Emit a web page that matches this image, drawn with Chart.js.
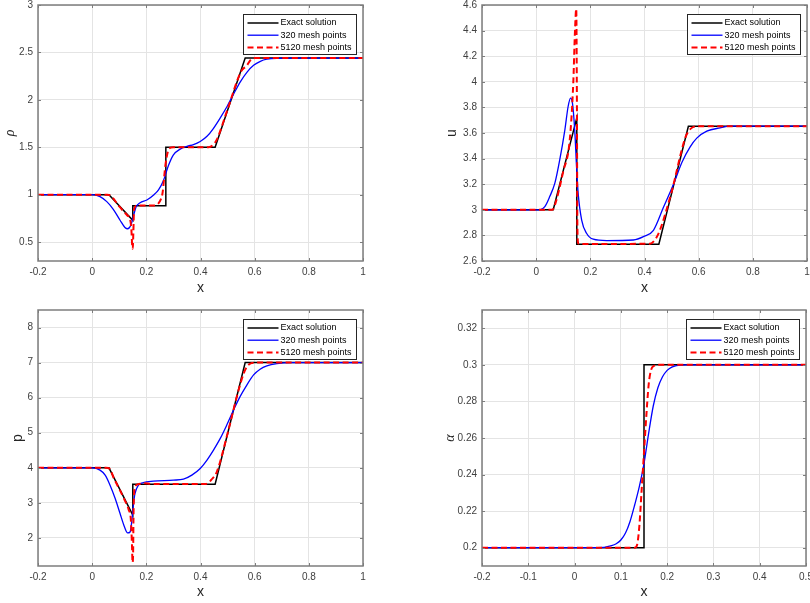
<!DOCTYPE html>
<html>
<head>
<meta charset="utf-8">
<script src="https://cdn.jsdelivr.net/npm/chart.js@4"></script>
<style>
  html, body { margin: 0; padding: 0; background: #fff; }
  #wrap { position: relative; width: 810px; height: 603px; overflow: hidden; }
  canvas { position: absolute; }
</style>
</head>
<body>
<div id="wrap">
  <canvas id="cRho" width="400" height="300" style="left:0;top:0"></canvas>
  <canvas id="cU" width="370" height="300" style="left:440px;top:0"></canvas>
  <canvas id="cP" width="400" height="303" style="left:0;top:300px"></canvas>
  <canvas id="cAlpha" width="370" height="303" style="left:440px;top:300px"></canvas>
</div>
<script>
// series names
const seriesLabels = ['Exact solution', '320 mesh points', '5120 mesh points'];

// tick labels
const xTicksWide = [-0.2, 0, 0.2, 0.4, 0.6, 0.8, 1];
const xTicksNarrow = [-0.2, -0.1, 0, 0.1, 0.2, 0.3, 0.4, 0.5];
const rhoTicks = [0.5, 1, 1.5, 2, 2.5, 3];
const uTicks = [2.6, 2.8, 3, 3.2, 3.4, 3.6, 3.8, 4, 4.2, 4.4, 4.6];
const pTicks = [2, 3, 4, 5, 6, 7, 8];
const alphaTicks = [0.2, 0.22, 0.24, 0.26, 0.28, 0.3, 0.32];

// density
const rhoExactX = [-0.2, 0.062, 0.15, 0.15, 0.272, 0.272, 0.454, 0.565, 1.0];
const rhoExactY = [1, 1, 0.73, 0.883, 0.883, 1.5, 1.5, 2.44, 2.44];
const rho320X = [-0.2, 0.0, 0.029, 0.054, 0.078, 0.103, 0.121, 0.131, 0.143, 0.152, 0.162, 0.177, 0.202, 0.227, 0.245, 0.264, 0.282, 0.3, 0.325, 0.35, 0.374, 0.399, 0.424, 0.448, 0.473, 0.498, 0.522, 0.547, 0.572, 0.596, 0.621, 0.645, 0.682, 0.75, 1.0];
const rho320Y = [1, 1, 0.979, 0.926, 0.845, 0.73, 0.654, 0.64, 0.68, 0.77, 0.87, 0.915, 0.943, 0.996, 1.05, 1.155, 1.31, 1.42, 1.48, 1.51, 1.527, 1.56, 1.615, 1.7, 1.81, 1.93, 2.06, 2.19, 2.293, 2.364, 2.406, 2.428, 2.438, 2.44, 2.44];
const rho5120X = [-0.2, 0.055, 0.07, 0.1, 0.13, 0.14, 0.145, 0.148, 0.15, 0.152, 0.155, 0.165, 0.23, 0.25, 0.26, 0.27, 0.28, 0.29, 0.3, 0.43, 0.445, 0.46, 0.5, 0.55, 0.571, 0.585, 0.6, 1.0];
const rho5120Y = [1, 1, 0.985, 0.875, 0.78, 0.74, 0.62, 0.45, 0.43, 0.6, 0.85, 0.885, 0.886, 0.93, 1.02, 1.3, 1.46, 1.495, 1.5, 1.5, 1.52, 1.58, 1.9, 2.3, 2.36, 2.42, 2.44, 2.44];

// velocity
const uExactX = [-0.2, 0.063, 0.15, 0.15, 0.453, 0.562, 1.0];
const uExactY = [3, 3, 3.718, 2.731, 2.731, 3.653, 3.653];
const u320X = [-0.2, 0.0135, 0.032, 0.05, 0.069, 0.087, 0.106, 0.118, 0.127, 0.134, 0.143, 0.149, 0.155, 0.168, 0.186, 0.211, 0.26, 0.359, 0.396, 0.433, 0.47, 0.507, 0.538, 0.568, 0.593, 0.63, 0.679, 0.716, 1.0];
const u320Y = [3, 3, 3.025, 3.103, 3.208, 3.39, 3.625, 3.807, 3.873, 3.833, 3.6, 3.338, 3.13, 2.92, 2.817, 2.77, 2.759, 2.764, 2.79, 2.84, 3.02, 3.2, 3.37, 3.49, 3.56, 3.614, 3.64, 3.653, 3.653];
const u5120X = [-0.2, 0.06, 0.068, 0.1, 0.124, 0.137, 0.143, 0.148, 0.1505, 0.152, 0.155, 0.16, 0.42, 0.44, 0.455, 0.5, 0.55, 0.565, 0.578, 0.592, 1.0];
const u5120Y = [3, 3, 3.03, 3.3, 3.546, 3.99, 4.38, 4.57, 3.8, 2.9, 2.74, 2.733, 2.735, 2.77, 2.83, 3.14, 3.56, 3.62, 3.645, 3.653, 3.653];

// pressure
const pExactX = [-0.2, 0.062, 0.15, 0.15, 0.454, 0.565, 1.0];
const pExactY = [4, 4, 2.65, 3.533, 3.533, 7, 7];
const p320X = [-0.2, 0.0, 0.029, 0.048, 0.066, 0.085, 0.103, 0.118, 0.131, 0.14, 0.146, 0.152, 0.158, 0.171, 0.189, 0.226, 0.3, 0.337, 0.368, 0.399, 0.424, 0.448, 0.473, 0.497, 0.522, 0.546, 0.571, 0.596, 0.62, 0.645, 0.682, 0.73, 1.0];
const p320Y = [4, 4, 3.933, 3.79, 3.505, 3.124, 2.695, 2.343, 2.143, 2.17, 2.457, 2.933, 3.267, 3.505, 3.581, 3.62, 3.648, 3.676, 3.79, 3.98, 4.22, 4.505, 4.838, 5.22, 5.648, 6.03, 6.36, 6.648, 6.81, 6.905, 6.97, 7, 7];
const p5120X = [-0.2, 0.05, 0.065, 0.08, 0.1, 0.12, 0.135, 0.143, 0.147, 0.149, 0.151, 0.153, 0.158, 0.17, 0.19, 0.22, 0.42, 0.44, 0.46, 0.5, 0.54, 0.56, 0.575, 0.59, 0.6, 1.0];
const p5120Y = [4, 4, 3.97, 3.7, 3.4, 3.08, 2.8, 2.5, 1.8, 1.3, 1.5, 2.8, 3.45, 3.53, 3.56, 3.54, 3.54, 3.66, 3.88, 4.98, 6.2, 6.7, 6.92, 6.99, 7, 7];

// volume fraction
const alphaExactX = [-0.2, 0.15, 0.15, 0.5];
const alphaExactY = [0.2, 0.2, 0.3, 0.3];
const alpha320X = [-0.2, 0.05, 0.08, 0.09, 0.1, 0.11, 0.12, 0.13, 0.14, 0.15, 0.16, 0.17, 0.18, 0.19, 0.2, 0.21, 0.22, 0.24, 0.5];
const alpha320Y = [0.2, 0.2, 0.2012, 0.2022, 0.2042, 0.208, 0.2145, 0.2235, 0.2335, 0.246, 0.2625, 0.2775, 0.2875, 0.2935, 0.297, 0.2988, 0.2996, 0.3, 0.3];
const alpha5120X = [-0.2, 0.13, 0.135, 0.14, 0.145, 0.15, 0.155, 0.16, 0.165, 0.172, 0.18, 0.5];
const alpha5120Y = [0.2, 0.2, 0.2015, 0.212, 0.232, 0.252, 0.272, 0.289, 0.297, 0.2995, 0.3, 0.3];

const FONT = "'Liberation Sans', Arial, Helvetica, sans-serif";

function pts(xs, ys) {
  return xs.map((x, i) => ({ x: x, y: ys[i] }));
}

function fmt(v) {
  return String(Math.round(v * 1000) / 1000);
}

// axes box, inward ticks and the boxed legend in the upper right
const frame = {
  id: 'frame',
  afterDraw(chart) {
    const ctx = chart.ctx, a = chart.chartArea;
    const xs = chart.scales.x, ys = chart.scales.y;
    ctx.save();
    ctx.strokeStyle = '#7d7d7d';
    ctx.lineWidth = 1;
    ctx.beginPath();
    xs.ticks.forEach(t => {
      const p = Math.round(xs.getPixelForValue(t.value)) + 0.5;
      ctx.moveTo(p, a.bottom); ctx.lineTo(p, a.bottom - 3);
      ctx.moveTo(p, a.top); ctx.lineTo(p, a.top + 3);
    });
    ys.ticks.forEach(t => {
      const p = Math.round(ys.getPixelForValue(t.value)) + 0.5;
      ctx.moveTo(a.left, p); ctx.lineTo(a.left + 3, p);
      ctx.moveTo(a.right, p); ctx.lineTo(a.right - 3, p);
    });
    ctx.stroke();
    ctx.lineWidth = 1.5;
    ctx.strokeRect(a.left, a.top, a.right - a.left, a.bottom - a.top);

    // legend
    const w = 113, h = 40;
    const x0 = Math.round(a.right - 7 - w) + 0.5, y0 = Math.round(a.top + 9) + 0.5;
    ctx.fillStyle = '#fff';
    ctx.fillRect(x0, y0, w, h);
    ctx.strokeStyle = '#262626';
    ctx.lineWidth = 1;
    ctx.strokeRect(x0, y0, w, h);
    ctx.font = '9px ' + FONT;
    ctx.textBaseline = 'middle';
    ctx.textAlign = 'left';
    chart.data.datasets.forEach((ds, i) => {
      const y = y0 + 8.5 + i * 12.2;
      ctx.strokeStyle = ds.borderColor;
      ctx.lineWidth = ds.borderWidth;
      ctx.setLineDash(ds.borderDash || []);
      ctx.beginPath();
      ctx.moveTo(x0 + 4, y);
      ctx.lineTo(x0 + 35, y);
      ctx.stroke();
      ctx.setLineDash([]);
      ctx.fillStyle = '#000';
      ctx.fillText(ds.label, x0 + 37, y);
    });
    ctx.restore();
  }
};

function drawPanel(id, cfg) {
  new Chart(document.getElementById(id), {
    type: 'line',
    data: {
      datasets: [
        { label: seriesLabels[0], data: pts(cfg.exact[0], cfg.exact[1]), borderColor: '#000000', borderWidth: 1.5, order: 3 },
        { label: seriesLabels[1], data: pts(cfg.coarse[0], cfg.coarse[1]), borderColor: '#0000ff', borderWidth: 1.3, cubicInterpolationMode: 'monotone', order: 2 },
        { label: seriesLabels[2], data: pts(cfg.fine[0], cfg.fine[1]), borderColor: '#ff0000', borderWidth: 2, borderDash: [6, 3.5], cubicInterpolationMode: 'monotone', order: 1 }
      ]
    },
    options: {
      responsive: false,
      animation: false,
      layout: { padding: cfg.pad },
      elements: { point: { radius: 0 }, line: { tension: 0 } },
      plugins: { legend: { display: false }, tooltip: { enabled: false } },
      scales: {
        x: {
          type: 'linear',
          min: cfg.xTicks[0],
          max: cfg.xTicks[cfg.xTicks.length - 1],
          grid: { color: '#e4e4e4', drawTicks: false },
          border: { display: false },
          ticks: { autoSkip: false, maxRotation: 0, padding: 5, color: '#404040', font: { family: FONT, size: 10 }, callback: fmt },
          title: { display: true, text: 'x', color: '#262626', font: { family: FONT, size: 14 }, padding: { top: 0, bottom: cfg.xTitlePad } },
          afterBuildTicks: s => { s.ticks = cfg.xTicks.map(v => ({ value: v })); },
          afterFit: s => { s.height = cfg.xHeight; s.paddingLeft = 0; s.paddingRight = 0; }
        },
        y: {
          min: cfg.yRange[0],
          max: cfg.yRange[1],
          grid: { color: '#e4e4e4', drawTicks: false },
          border: { display: false },
          ticks: { autoSkip: false, padding: 5, color: '#404040', font: { family: FONT, size: 10 }, callback: fmt },
          title: { display: true, text: cfg.yTitle, color: '#262626', font: cfg.yFont, padding: { top: cfg.yTitlePad, bottom: 0 } },
          afterBuildTicks: s => { s.ticks = cfg.yTicks.map(v => ({ value: v })); },
          afterFit: s => { s.width = cfg.yWidth; s.paddingTop = 0; s.paddingBottom = 0; }
        }
      }
    },
    plugins: [frame]
  });
}

const greekFont = { family: "'Liberation Serif', 'DejaVu Serif', serif", size: 14, style: 'italic' };
const plainFont = { family: FONT, size: 14 };

drawPanel('cRho', {
  exact: [rhoExactX, rhoExactY], coarse: [rho320X, rho320Y], fine: [rho5120X, rho5120Y],
  xTicks: xTicksWide, yTicks: rhoTicks, yRange: [0.3, 3],
  yTitle: 'ρ', yFont: greekFont, yTitlePad: 2, xTitlePad: 3,
  pad: { left: 0, top: 5, right: 37, bottom: 0 }, yWidth: 38, xHeight: 39
});
drawPanel('cU', {
  exact: [uExactX, uExactY], coarse: [u320X, u320Y], fine: [u5120X, u5120Y],
  xTicks: xTicksWide, yTicks: uTicks, yRange: [2.6, 4.6],
  yTitle: 'u', yFont: plainFont, yTitlePad: 4, xTitlePad: 3,
  pad: { left: 0, top: 5, right: 3, bottom: 0 }, yWidth: 42, xHeight: 39
});
drawPanel('cP', {
  exact: [pExactX, pExactY], coarse: [p320X, p320Y], fine: [p5120X, p5120Y],
  xTicks: xTicksWide, yTicks: pTicks, yRange: [1.2, 8.5],
  yTitle: 'p', yFont: plainFont, yTitlePad: 4, xTitlePad: 2,
  pad: { left: 6, top: 10, right: 37, bottom: 0 }, yWidth: 32, xHeight: 37
});
drawPanel('cAlpha', {
  exact: [alphaExactX, alphaExactY], coarse: [alpha320X, alpha320Y], fine: [alpha5120X, alpha5120Y],
  xTicks: xTicksNarrow, yTicks: alphaTicks, yRange: [0.19, 0.33],
  yTitle: 'α', yFont: greekFont, yTitlePad: 2, xTitlePad: 2,
  pad: { left: 0, top: 10, right: 4, bottom: 0 }, yWidth: 42, xHeight: 37
});
</script>
</body>
</html>
